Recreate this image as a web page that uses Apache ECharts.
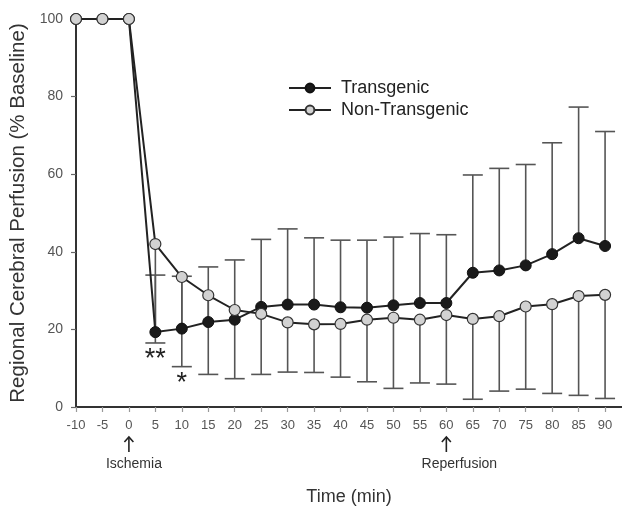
<!DOCTYPE html>
<html><head><meta charset="utf-8">
<script src="https://cdn.jsdelivr.net/npm/echarts@6/dist/echarts.min.js"></script>
<style>html,body{margin:0;padding:0;background:#fff}#c{width:622px;height:506px}</style>
</head><body><div id="c"></div>
<script>
// ---- data ----
const times = [-10,-5,0,5,10,15,20,25,30,35,40,45,50,55,60,65,70,75,80,85,90];
const transgenic = [100,100,100,19.3,20.2,21.9,22.5,25.8,26.4,26.4,25.7,25.6,26.2,26.8,26.8,34.6,35.2,36.5,39.4,43.5,41.5];
const transgenicUpper = [null,null,null,34.0,33.7,36.1,37.9,43.2,45.9,43.6,43.0,43.0,43.8,44.7,44.4,59.8,61.5,62.5,68.1,77.3,71.0];
const nonTransgenic = [100,100,100,42.0,33.5,28.8,25.0,24.0,21.8,21.3,21.4,22.5,23.0,22.5,23.7,22.7,23.4,25.9,26.5,28.6,28.9];
const nonTransgenicLower = [null,null,null,16.5,10.4,8.4,7.3,8.4,9.0,8.9,7.7,6.5,4.8,6.2,5.9,2.0,4.1,4.6,3.5,3.0,2.2];
const xTicks = [-10,-5,0,5,10,15,20,25,30,35,40,45,50,55,60,65,70,75,80,85,90];
const yTicks = [0,20,40,60,80,100];
const seriesNames = ['Transgenic','Non-Transgenic'];
const events = [{t:0, label:'Ischemia'},{t:60, label:'Reperfusion'}];
const stars = [{t:5, v:13.9, text:'**'},{t:10, v:7.5, text:'*'}];

const FONT = '"Liberation Sans", Arial, sans-serif';
const chart = echarts.init(document.getElementById('c'), null, {renderer:'canvas'});

function pairs(ys){ return times.map((t,i)=>[t, ys[i]]); }
function errData(means, ends){
  const out=[]; times.forEach((t,i)=>{ if(ends[i]!=null) out.push([t, means[i], ends[i]]); }); return out;
}
function errRender(params, api){
  const x=api.value(0), a=api.value(1), b=api.value(2);
  const p0=api.coord([x,a]), p1=api.coord([x,b]);
  const st={stroke:'#555', lineWidth:1.6};
  return {type:'group', children:[
    {type:'line', shape:{x1:p0[0],y1:p0[1],x2:p1[0],y2:p1[1]}, style:st},
    {type:'line', shape:{x1:p1[0]-10,y1:p1[1],x2:p1[0]+10,y2:p1[1]}, style:st}
  ]};
}

chart.setOption({
  animation:false,
  backgroundColor:'#fff',
  textStyle:{fontFamily:FONT},
  grid:{left:76, right:0, top:19, bottom:99, containLabel:false, outerBoundsMode:'none'},
  legend:{
    orient:'vertical', left:288, top:79, padding:0, itemWidth:42, itemHeight:11, itemGap:4,
    textStyle:{fontFamily:FONT, fontSize:18, color:'#222', lineHeight:18, padding:[0,0,0,5]},
    data:seriesNames
  },
  xAxis:{
    type:'value', min:-10, max:93.2, interval:5,
    name:'Time (min)', nameLocation:'middle', nameGap:81,
    nameTextStyle:{fontFamily:FONT, fontSize:18, color:'#333'},
    axisLine:{onZero:false, lineStyle:{color:'#333', width:2}},
    axisTick:{length:5, lineStyle:{color:'#999', width:1.2}, customValues:xTicks},
    axisLabel:{fontFamily:FONT, fontSize:13, color:'#555', margin:12, customValues:xTicks},
    splitLine:{show:false}
  },
  yAxis:{
    type:'value', min:0, max:100, interval:20,
    name:'Regional Cerebral Perfusion (% Baseline)', nameLocation:'middle', nameGap:42,
    nameTextStyle:{fontFamily:FONT, fontSize:20.5, color:'#333'},
    axisLine:{show:true, onZero:false, lineStyle:{color:'#333', width:2}},
    axisTick:{show:true, length:5, lineStyle:{color:'#666', width:1.2}, customValues:yTicks},
    axisLabel:{fontFamily:FONT, fontSize:14, color:'#555', margin:13, customValues:yTicks},
    splitLine:{show:false}
  },
  series:[
    {type:'custom', name:'errT', renderItem:errRender, data:errData(transgenic, transgenicUpper), z:1, silent:true, encode:{x:0,y:[1,2]}},
    {type:'custom', name:'errN', renderItem:errRender, data:errData(nonTransgenic, nonTransgenicLower), z:1, silent:true, encode:{x:0,y:[1,2]}},
    {type:'line', name:seriesNames[0], data:pairs(transgenic), symbol:'circle', symbolSize:11, z:3,
      lineStyle:{color:'#222', width:2}, itemStyle:{color:'#1a1a1a', borderColor:'#111', borderWidth:1}},
    {type:'line', name:seriesNames[1], data:pairs(nonTransgenic), symbol:'circle', symbolSize:11, z:4,
      lineStyle:{color:'#222', width:2}, itemStyle:{color:'#d2d2d2', borderColor:'#333', borderWidth:1.2}}
  ]
});

// annotations positioned through the axes
const g=[];
const y0 = chart.convertToPixel({yAxisIndex:0}, 0);
events.forEach(e=>{
  const x = chart.convertToPixel({xAxisIndex:0}, e.t);
  g.push({type:'line', shape:{x1:x,y1:y0+30,x2:x,y2:y0+45}, style:{stroke:'#222', lineWidth:1.6}});
  g.push({type:'polyline', shape:{points:[[x-4.5,y0+35],[x,y0+30],[x+4.5,y0+35]]}, style:{stroke:'#222', lineWidth:1.6, fill:null}});
  g.push({type:'text', x:x+(e.t===0?5:13), y:y0+57, style:{text:e.label, fontFamily:FONT, fontSize:14, fill:'#333', align:'center', verticalAlign:'middle'}});
});
stars.forEach(s=>{
  const p = chart.convertToPixel({xAxisIndex:0, yAxisIndex:0}, [s.t, s.v]);
  g.push({type:'text', x:p[0], y:p[1]+6, style:{text:s.text, fontFamily:FONT, fontSize:27, fill:'#222', align:'center', verticalAlign:'middle'}});
});
chart.setOption({graphic:g});
</script></body></html>
